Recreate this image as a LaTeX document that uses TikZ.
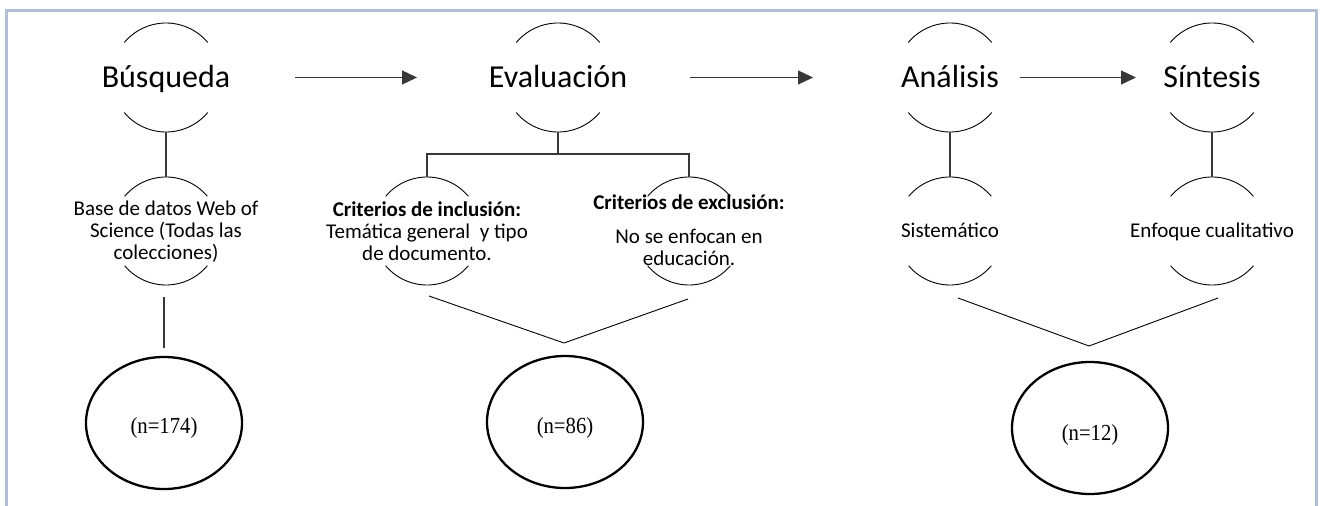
\documentclass[tikz,border=0pt]{standalone}
\usepackage{fontspec}
\setmainfont{Carlito}
\newfontfamily\timesf[FakeStretch=0.9]{Liberation Serif}
\usetikzlibrary{arrows.meta,shapes.geometric}
\definecolor{framec}{HTML}{B2BED3}
\definecolor{arrc}{HTML}{383838}
\begin{document}
\begin{tikzpicture}[x=1pt,y=-1pt,
  hubnode/.style={circle,minimum size=109pt,inner sep=0pt,outer sep=0pt,draw=none},
  subnode/.style={circle,minimum size=108pt,inner sep=0pt,outer sep=0pt,draw=none},
  ttl/.style={font=\fontsize{32}{38}\selectfont,inner sep=0pt,anchor=base},
  bodytxt/.style={font=\fontsize{21}{22}\selectfont,inner sep=0pt,anchor=base,align=center},
  arcline/.style={line width=0.9pt,black},
  conn/.style={line width=1.1pt,arrc},
  flow/.style={line width=1.3pt,arrc,-{Triangle[length=15pt,width=14pt]}},
  countnode/.style={ellipse,draw,line width=2.3pt,minimum width=156pt,minimum height=132pt,inner sep=0pt},
  ntext/.style={font=\timesf\fontsize{23}{26}\selectfont,inner sep=0pt}
]
\useasboundingbox (0,0) rectangle (1320,506);
\draw[framec,line width=3pt] (6,506) -- (6,10) -- (1316,10) -- (1316,506);

% circles whose top and bottom arcs are drawn
\node[hubnode] (bus) at (166,77.5) {};
\node[hubnode] (eva) at (558,77.5) {};
\node[hubnode] (ana) at (950,77.5) {};
\node[hubnode] (sin) at (1212,77.5) {};
\node[subnode] (bas) at (166,231) {};
\node[subnode] (inc) at (427,231) {};
\node[subnode] (exc) at (689,231) {};
\node[subnode] (sis) at (950,231) {};
\node[subnode] (enf) at (1212,231) {};
\foreach \n in {bus,eva,ana,sin} {
  \draw[arcline] (\n.40) arc[start angle=40,end angle=140,radius=54.5pt]
                 (\n.220) arc[start angle=220,end angle=320,radius=54.5pt];
}
\foreach \n in {bas,inc,exc,sis,enf} {
  \draw[arcline] (\n.40) arc[start angle=40,end angle=140,radius=54pt]
                 (\n.220) arc[start angle=220,end angle=320,radius=54pt];
}

% titles
\node[ttl] (tbus) at (166,87) {Búsqueda};
\node[ttl] (teva) at (558,87) {Evaluación};
\node[ttl] (tana) at (950,87) {Análisis};
\node[ttl] (tsin) at (1212,87) {Síntesis};

% body texts (base anchor = baseline of the last line)
\node[bodytxt] (tbas) at (166,259) {Base de datos Web of\\Science (Todas las\\colecciones)};
\node[bodytxt] (tinc) at (427,260) {\textbf{Criterios de inclusión:}\\Temática general~ y tipo\\de documento.};
\node[bodytxt] (texc) at (689,265) {\textbf{Criterios de exclusión:}\\[12pt]No se enfocan en\\educación.};
\node[bodytxt] (tsis) at (950,237) {Sistemático};
\node[bodytxt] (tenf) at (1212,237) {Enfoque cualitativo};

% vertical / tree connectors
\draw[conn] (bus.south) -- (bas.north);
\draw[conn] (eva.south) -- ++(0,22) coordinate (ej);
\draw[conn] (inc.north) |- (ej) -| (exc.north);
\draw[conn] (ana.south) -- (sis.north);
\draw[conn] (sin.south) -- (enf.north);

% flow arrows
\draw[flow,shorten <=74.5pt,shorten >=86.5pt] (bus.east) -- (eva.west);
\draw[flow,shorten <=77.5pt,shorten >=82.5pt] (eva.east) -- (ana.west);
\draw[flow,shorten <=15.5pt,shorten >=21.5pt] (ana.east) -- (sin.west);

% count ellipses
\node[countnode] (n1) at (164,423) {};
\node[countnode] (n2) at (565,422) {};
\node[countnode] (n3) at (1090,428) {};
\node[ntext] (t1) at (164,428) {(n=174)};
\node[ntext] (t2) at (565,428) {(n=86)};
\node[ntext] (t3) at (1090,435) {(n=12)};

\draw[conn,shorten <=12pt,shorten >=8pt] (n1.north |- bas.south) -- (n1.north);

% V connectors
\coordinate (v1) at (564,343);
\coordinate (v1a) at ([shift={(2,11)}]inc.south);
\coordinate (v1b) at ([shift={(-1,14)}]exc.south);
\draw[arcline] (v1a) -- (v1) -- (v1b);
\coordinate (v2) at (1089,346);
\coordinate (v2a) at ([shift={(8,13)}]sis.south);
\coordinate (v2b) at ([shift={(6,13)}]enf.south);
\draw[arcline] (v2a) -- (v2) -- (v2b);
\end{tikzpicture}
\end{document}
